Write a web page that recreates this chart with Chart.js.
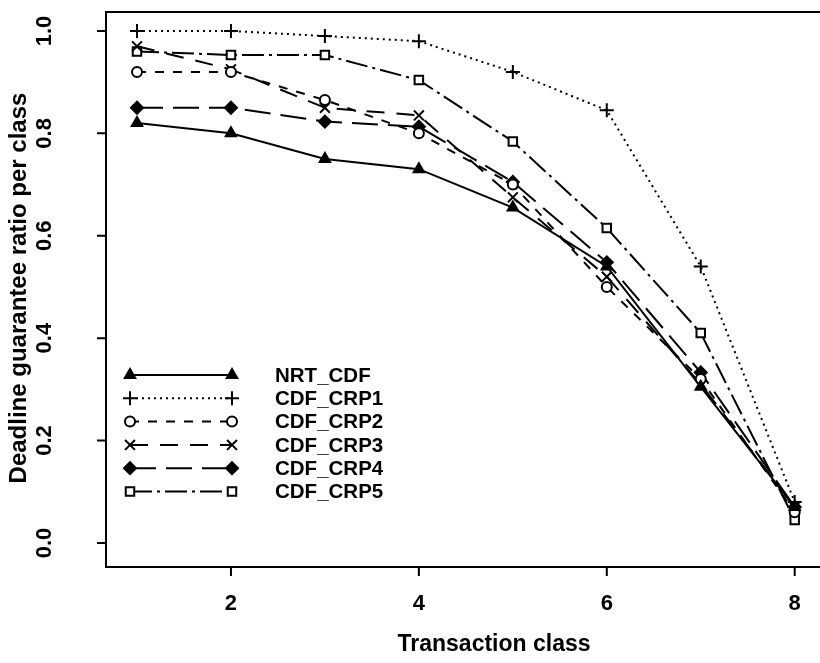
<!DOCTYPE html>
<html><head><meta charset="utf-8">
<script src="https://cdn.jsdelivr.net/npm/chart.js@4/dist/chart.umd.min.js"></script>
<style>html,body{margin:0;padding:0;background:#fff;overflow:hidden}#wrap{width:830px;height:663px}</style>
</head><body><div id="wrap"><canvas id="c" width="830" height="663"></canvas></div>
<script>
const classes = [1, 2, 3, 4, 5, 6, 7, 8];
const seriesNames = ["NRT_CDF", "CDF_CRP1", "CDF_CRP2", "CDF_CRP3", "CDF_CRP4", "CDF_CRP5"];
const nrtCdf  = [0.82, 0.80, 0.75, 0.73, 0.655, 0.54, 0.305, 0.07];
const cdfCrp1 = [1.00, 1.00, 0.99, 0.98, 0.92, 0.845, 0.54, 0.08];
const cdfCrp2 = [0.92, 0.92, 0.865, 0.80, 0.70, 0.50, 0.32, 0.06];
const cdfCrp3 = [0.97, 0.925, 0.85, 0.835, 0.675, 0.52, 0.31, 0.07];
const cdfCrp4 = [0.85, 0.85, 0.823, 0.813, 0.705, 0.548, 0.333, 0.07];
const cdfCrp5 = [0.96, 0.953, 0.953, 0.904, 0.784, 0.615, 0.41, 0.045];
const xTicks = [2, 4, 6, 8];
const yTicks = [0.0, 0.2, 0.4, 0.6, 0.8, 1.0];
const xTitle = "Transaction class";
const yTitle = "Deadline guarantee ratio per class";

const FONT = '"Liberation Sans", Arial, Helvetica, sans-serif';
const toXY = arr => arr.map((v, i) => ({x: classes[i], y: v}));

const styles = [
  {dash: [], ps: 'triangle', r: 6, fill: '#000'},
  {dash: [2, 4], ps: 'cross', r: 7, fill: '#000'},
  {dash: [9, 9], ps: 'circle', r: 5, fill: '#fff'},
  {dash: [18, 12], ps: 'crossRot', r: 7, fill: '#000'},
  {dash: [26, 10], ps: 'rectRot', r: 6, fill: '#000'},
  {dash: [22, 5, 3, 5], ps: 'rect', r: 6, fill: '#fff'}
];
const allData = [nrtCdf, cdfCrp1, cdfCrp2, cdfCrp3, cdfCrp4, cdfCrp5];

const datasets = allData.map((d, i) => ({
  label: seriesNames[i],
  data: toXY(d),
  borderColor: '#000',
  backgroundColor: styles[i].fill,
  borderWidth: 2,
  borderDash: styles[i].dash,
  pointStyle: styles[i].ps,
  pointRadius: styles[i].r,
  pointBorderWidth: 2,
  pointBorderColor: '#000',
  pointBackgroundColor: styles[i].fill,
  tension: 0
}));

const decor = {
  id: 'decor',
  afterDraw(chart) {
    const ctx = chart.ctx, ca = chart.chartArea;
    const xs = chart.scales.x, ys = chart.scales.y;
    ctx.save();
    ctx.strokeStyle = '#000'; ctx.lineWidth = 2; ctx.setLineDash([]);
    ctx.strokeRect(ca.left, ca.top, ca.right - ca.left, ca.bottom - ca.top);
    // tick marks
    ctx.beginPath();
    xTicks.forEach(v => { const p = xs.getPixelForValue(v); ctx.moveTo(p, ca.bottom); ctx.lineTo(p, ca.bottom + 9); });
    yTicks.forEach(v => { const p = ys.getPixelForValue(v); ctx.moveTo(ca.left, p); ctx.lineTo(ca.left - 9, p); });
    ctx.stroke();
    ctx.fillStyle = '#000';
    ctx.font = 'bold 22px ' + FONT;
    ctx.textAlign = 'center'; ctx.textBaseline = 'middle';
    xTicks.forEach(v => ctx.fillText(String(v), xs.getPixelForValue(v), 604));
    yTicks.forEach(v => {
      ctx.save(); ctx.translate(45, ys.getPixelForValue(v)); ctx.rotate(-Math.PI / 2);
      ctx.fillText(v.toFixed(1), 0, 0); ctx.restore();
    });
    ctx.font = 'bold 23px ' + FONT;
    ctx.fillText(xTitle, 494, 645);
    ctx.font = 'bold 24px ' + FONT;
    ctx.save(); ctx.translate(19, 288); ctx.rotate(-Math.PI / 2); ctx.fillText(yTitle, 0, 0); ctx.restore();
    // legend
    chart.data.datasets.forEach((ds, i) => {
      const y = 375 + i * 23.3;
      ctx.lineWidth = 2; ctx.strokeStyle = '#000';
      ctx.setLineDash(ds.borderDash);
      ctx.beginPath(); ctx.moveTo(130, y); ctx.lineTo(232, y); ctx.stroke();
      ctx.setLineDash([]);
      ctx.fillStyle = ds.pointBackgroundColor;
      [130, 232].forEach(px => Chart.helpers.drawPoint(ctx, {pointStyle: ds.pointStyle, radius: ds.pointRadius, rotation: 0, borderWidth: 2}, px, y));
      ctx.fillStyle = '#000';
      ctx.font = 'bold 20.5px ' + FONT;
      ctx.textAlign = 'left';
      ctx.fillText(ds.label, 275, y + 1);
    });
    ctx.restore();
  }
};

new Chart(document.getElementById('c'), {
  type: 'line',
  data: {datasets},
  plugins: [decor],
  options: {
    responsive: false, animation: false,
    layout: {padding: {left: 0, top: 12, right: 0, bottom: 0}},
    plugins: {legend: {display: false}, tooltip: {enabled: false}},
    scales: {
      x: {type: 'linear', min: 0.67, max: 8.28,
        afterFit: s => { s.height = 96; },
        afterBuildTicks: s => { s.ticks = xTicks.map(v => ({value: v})); },
        grid: {display: false}, border: {display: false}, ticks: {display: false}},
      y: {type: 'linear', min: -0.047, max: 1.037,
        afterFit: s => { s.width = 106; },
        afterBuildTicks: s => { s.ticks = yTicks.map(v => ({value: v})); },
        grid: {display: false}, border: {display: false}, ticks: {display: false}}
    }
  }
});
</script></body></html>
